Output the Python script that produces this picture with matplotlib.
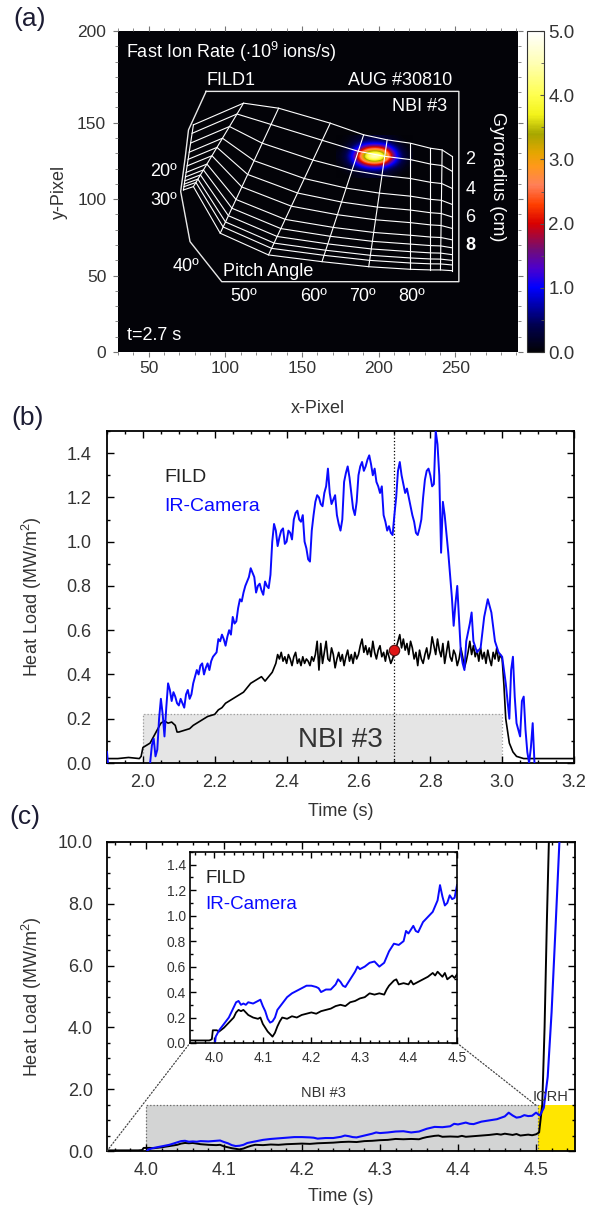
import matplotlib.pyplot as plt
import numpy as np
from matplotlib.cm import ScalarMappable
from matplotlib.colors import LinearSegmentedColormap, Normalize
from matplotlib.patches import ConnectionPatch
from matplotlib.ticker import FormatStrFormatter, MultipleLocator

plt.rcParams['font.family'] = ['Liberation Sans', 'DejaVu Sans']
plt.rcParams['mathtext.fontset'] = 'custom'
plt.rcParams['mathtext.rm'] = 'Liberation Sans'

TXT = '#333333'
BLUE = '#0a0aff'

# ---------------- (a) FILD frame: spot + strike map (pixel coords) ----------------
SPOT = np.array([
    [0.0, 0.05, 0.15, 0.25, 0.25, 0.2, 0.1, 0.0, 0.0],
    [0.0, 0.15, 0.5, 0.9, 1.0, 0.9, 0.5, 0.15, 0.0],
    [0.05, 0.4, 1.3, 2.8, 3.4, 2.9, 1.4, 0.4, 0.05],
    [0.1, 0.6, 2.0, 4.6, 5.6, 4.7, 2.1, 0.6, 0.1],
    [0.05, 0.4, 1.2, 2.4, 2.9, 2.4, 1.2, 0.4, 0.05],
    [0.0, 0.15, 0.3, 0.6, 0.7, 0.6, 0.3, 0.15, 0.0],
    [0.0, 0.0, 0.1, 0.15, 0.2, 0.15, 0.1, 0.0, 0.0],
])
SPOT_EXTENT = (172, 222, 114, 142)

# pitch-angle lines (top / bottom ends) and gyroradius positions along them
PITCH_TOP_X = [79.2, 111.9, 134.8, 168.5, 190.3, 205.6, 220.8, 233.9, 241.5, 248.1]
PITCH_TOP_Y = [148.6, 162.8, 159.5, 149.7, 142.1, 138.8, 136.6, 133.3, 132.2, 127.9]
PITCH_BOT_X = [72.7, 79.2, 96.7, 128.2, 163.1, 193.6, 220.8, 233.9, 240.4, 248.1]
PITCH_BOT_Y = [106.0, 108.2, 77.7, 63.5, 59.1, 55.8, 54.1, 53.7, 53.7, 53.2]
GYRO_FRAC = [0.0, 0.13, 0.28, 0.42, 0.53, 0.63, 0.73, 0.80, 0.86, 0.91, 0.95, 1.0]

FRAME_X = [87.5, 252.4, 252.4, 97.7, 77.0, 70.9, 73.8, 76.0, 87.5]
FRAME_Y = [170.5, 170.5, 46.0, 46.0, 72.2, 105.0, 126.8, 145.3, 170.5]

GYRO_LABELS = ['2', '4', '6', '8']
GYRO_LABEL_Y = [125.7, 106.0, 87.8, 70.0]
PITCH_LABELS = ['50º', '60º', '70º', '80º']
PITCH_LABEL_X = [111.7, 157.5, 189.5, 221.5]

# ---------------- (b) heat load, t = 1.9 - 3.2 s ----------------
T_FILD_B = [1.90, 1.93, 1.96, 1.99, 1.995, 2.00, 2.02, 2.03, 2.04, 2.05, 2.06, 2.07, 2.08,
            2.09, 2.095, 2.10, 2.11, 2.12, 2.13, 2.14, 2.15, 2.16, 2.17, 2.18, 2.19, 2.20,
            2.21, 2.22, 2.23, 2.24, 2.25, 2.26, 2.27, 2.28, 2.29, 2.30, 2.31, 2.32, 2.33,
            2.34, 2.35, 2.36,
            2.370, 2.375, 2.380, 2.385, 2.390, 2.395, 2.400, 2.405, 2.410, 2.415, 2.420,
            2.425, 2.430, 2.435, 2.440, 2.445, 2.450, 2.455, 2.460, 2.465, 2.470, 2.475,
            2.480, 2.485, 2.490, 2.495, 2.500, 2.505, 2.510, 2.515, 2.520, 2.525, 2.530,
            2.535, 2.540, 2.545, 2.550, 2.555, 2.560, 2.565, 2.570, 2.575, 2.580, 2.585,
            2.590, 2.595, 2.600, 2.605, 2.610, 2.615, 2.620, 2.625, 2.630, 2.635, 2.640,
            2.645, 2.650, 2.655, 2.660, 2.665, 2.670, 2.675, 2.680, 2.685, 2.690, 2.695,
            2.700, 2.705, 2.710, 2.715, 2.720, 2.725, 2.730, 2.735, 2.740, 2.745, 2.750,
            2.755, 2.760, 2.765, 2.770, 2.775, 2.780, 2.785, 2.790, 2.795, 2.800, 2.805,
            2.810, 2.815, 2.820, 2.825, 2.830, 2.835, 2.840, 2.845, 2.850, 2.855, 2.860,
            2.865, 2.870, 2.875, 2.880, 2.885, 2.890, 2.895, 2.900, 2.905, 2.910, 2.915,
            2.920, 2.925, 2.930, 2.935, 2.940, 2.945, 2.950, 2.955, 2.960, 2.965, 2.970,
            2.975, 2.980, 2.985, 2.990, 2.995, 3.000,
            3.005, 3.01, 3.02, 3.03, 3.04, 3.06, 3.10, 3.15, 3.20]
FILD_B = [0.02, 0.02, 0.025, 0.02, 0.03, 0.07, 0.09, 0.12, 0.15, 0.18, 0.19, 0.18, 0.185,
          0.17, 0.14, 0.14, 0.145, 0.15, 0.155, 0.17, 0.18, 0.19, 0.20, 0.21, 0.215, 0.22,
          0.24, 0.25, 0.27, 0.28, 0.29, 0.30, 0.31, 0.32, 0.34, 0.36, 0.37, 0.38, 0.39,
          0.37, 0.39, 0.41,
          0.45, 0.49, 0.47, 0.50, 0.46, 0.48, 0.45, 0.49, 0.47, 0.44, 0.48,
          0.50, 0.45, 0.47, 0.44, 0.48, 0.45, 0.47, 0.46, 0.44, 0.48, 0.46,
          0.49, 0.55, 0.42, 0.54, 0.45, 0.50, 0.55, 0.47, 0.46, 0.52, 0.49,
          0.43, 0.47, 0.50, 0.46, 0.49, 0.44, 0.48, 0.51, 0.46, 0.49, 0.45,
          0.50, 0.47, 0.49, 0.53, 0.56, 0.50, 0.53, 0.49, 0.52, 0.48, 0.55,
          0.50, 0.47, 0.51, 0.53, 0.48, 0.50, 0.46, 0.51, 0.48, 0.45, 0.47,
          0.50, 0.52, 0.55, 0.58, 0.52, 0.56, 0.51, 0.54, 0.49, 0.55, 0.52,
          0.47, 0.50, 0.44, 0.51, 0.47, 0.45, 0.49, 0.52, 0.47, 0.50, 0.57,
          0.53, 0.49, 0.56, 0.51, 0.48, 0.54, 0.45, 0.50, 0.55, 0.48, 0.46,
          0.51, 0.49, 0.44, 0.47, 0.52, 0.48, 0.43, 0.46, 0.50, 0.55, 0.49,
          0.53, 0.48, 0.51, 0.46, 0.52, 0.47, 0.50, 0.45, 0.51, 0.47, 0.44,
          0.50, 0.47, 0.52, 0.46, 0.49, 0.47,
          0.35, 0.20, 0.09, 0.05, 0.03, 0.02, 0.02, 0.02, 0.02]

T_IR_B = [1.90, 1.905, 2.015, 2.02, 2.025, 2.03, 2.035, 2.04, 2.045, 2.05, 2.055, 2.06, 2.065,
          2.07, 2.075, 2.08, 2.085, 2.09, 2.095, 2.10, 2.105, 2.11, 2.12, 2.13, 2.14, 2.15,
          2.16, 2.17, 2.18, 2.19, 2.20, 2.21, 2.22, 2.23, 2.24, 2.25, 2.26, 2.27, 2.28, 2.29,
          2.30, 2.31, 2.315, 2.32, 2.33, 2.34, 2.35, 2.36, 2.365, 2.37, 2.38, 2.39, 2.40,
          2.41, 2.42, 2.43, 2.44, 2.45, 2.46, 2.465, 2.47, 2.48, 2.49, 2.50, 2.51, 2.515,
          2.52, 2.53, 2.54, 2.55, 2.56, 2.57, 2.58, 2.59, 2.60, 2.61, 2.62, 2.63, 2.64, 2.65,
          2.66, 2.67, 2.68, 2.69, 2.70, 2.705, 2.71, 2.715, 2.72, 2.73, 2.74, 2.75, 2.76,
          2.77, 2.78, 2.79, 2.80, 2.81, 2.815, 2.82, 2.825, 2.83, 2.835, 2.84, 2.85, 2.86,
          2.865, 2.87, 2.875, 2.88, 2.885, 2.89, 2.895, 2.90, 2.91, 2.915, 2.92, 2.93, 2.94,
          2.95, 2.96, 2.97, 2.98, 2.99, 3.00, 3.01, 3.02, 3.025, 3.03, 3.035, 3.04, 3.05,
          3.055, 3.06, 3.065, 3.07, 3.075, 3.08, 3.085, 3.09, 3.095]
IR_B = [0.05, -0.05, -0.05, 0.0, 0.08, 0.11, 0.03, 0.06, 0.20, 0.29, 0.22, 0.12, 0.25,
        0.36, 0.33, 0.28, 0.32, 0.30, 0.27, 0.26, 0.29, 0.27, 0.31, 0.29, 0.36, 0.42,
        0.44, 0.40, 0.45, 0.46, 0.49, 0.56, 0.58, 0.53, 0.60, 0.66, 0.64, 0.74, 0.77, 0.82,
        0.88, 0.84, 0.77, 0.80, 0.78, 0.82, 0.79, 1.00, 1.08, 1.05, 1.02, 1.06, 1.00,
        1.04, 1.10, 1.14, 1.09, 1.00, 0.92, 0.91, 1.05, 1.18, 1.20, 1.16, 1.25, 1.33,
        1.22, 1.19, 1.12, 1.05, 1.27, 1.34, 1.22, 1.12, 1.30, 1.36, 1.34, 1.39, 1.30, 1.27,
        1.22, 1.12, 1.05, 1.04, 1.12, 1.20, 1.32, 1.36, 1.30, 1.22, 1.20, 1.12, 1.04,
        1.06, 1.20, 1.32, 1.30, 1.26, 1.50, 1.44, 1.30, 0.95, 1.18, 1.12, 0.95, 0.75,
        0.62, 0.72, 0.80, 0.65, 0.50, 0.45, 0.42, 0.55, 0.63, 0.68, 0.55, 0.50, 0.52,
        0.66, 0.74, 0.68, 0.55, 0.50, 0.48, 0.36, 0.20, 0.42, 0.48, 0.30, 0.18, 0.12,
        0.28, 0.30, 0.15, 0.05, 0.0, 0.07, 0.18, 0.0, -0.10]
# extra in-between IR samples (fast fluctuations)
T_IR_B_MID = [2.115, 2.125, 2.135, 2.145, 2.155, 2.165, 2.175, 2.185, 2.195, 2.205, 2.215,
              2.225, 2.235, 2.245, 2.255, 2.265, 2.275, 2.285, 2.295, 2.305, 2.325, 2.335,
              2.345, 2.355, 2.375, 2.385, 2.395, 2.405, 2.415, 2.425, 2.435, 2.445, 2.455,
              2.475, 2.485, 2.495, 2.505, 2.525, 2.535, 2.545, 2.555, 2.565, 2.575, 2.585,
              2.595, 2.605, 2.615, 2.625, 2.635, 2.645, 2.655, 2.665, 2.675, 2.685, 2.695,
              2.725, 2.735, 2.745, 2.755, 2.765, 2.775, 2.785, 2.795, 2.805]
IR_B_MID = [0.25, 0.33, 0.31, 0.39, 0.40, 0.45, 0.43, 0.42, 0.48, 0.50, 0.55,
            0.56, 0.57, 0.58, 0.63, 0.70, 0.73, 0.80, 0.84, 0.86, 0.81, 0.76,
            0.80, 0.85, 0.98, 1.05, 0.99, 1.05, 1.01, 1.13, 1.10, 1.12, 0.97,
            1.12, 1.21, 1.17, 1.22, 1.17, 1.21, 1.08, 1.10, 1.31, 1.29, 1.15,
            1.18, 1.34, 1.32, 1.37, 1.35, 1.33, 1.25, 1.25, 1.09, 1.07, 1.03,
            1.26, 1.24, 1.16, 1.09, 1.03, 1.10, 1.28, 1.33, 1.25]

NBI_B = (2.0, 3.0)
NBI_TOP_B = 0.22
T_FRAME = 2.7
FILD_AT_FRAME = 0.51

# ---------------- (c) heat load, t = 3.95 - 4.55 s ----------------
T_FILD_C = [3.95, 3.97, 3.99, 3.995, 3.997, 4.005, 4.01, 4.02, 4.03, 4.04, 4.045, 4.05, 4.055,
            4.06, 4.065, 4.07, 4.08, 4.09, 4.095, 4.10, 4.105, 4.11, 4.115, 4.12, 4.125, 4.13,
            4.135, 4.14, 4.15, 4.16, 4.17, 4.18, 4.19, 4.20, 4.21, 4.22, 4.23, 4.24, 4.25,
            4.26, 4.27, 4.28, 4.29, 4.30, 4.31, 4.32, 4.33, 4.34, 4.35, 4.355, 4.36, 4.37,
            4.375, 4.38, 4.39, 4.40, 4.405, 4.41, 4.42, 4.43, 4.44, 4.45, 4.455, 4.46, 4.47,
            4.475, 4.48, 4.49, 4.495, 4.50]
FILD_C = [0.02, 0.02, 0.02, 0.03, 0.10, 0.10, 0.09, 0.12, 0.16, 0.20, 0.24, 0.26, 0.25,
          0.26, 0.24, 0.22, 0.20, 0.19, 0.20, 0.15, 0.12, 0.09, 0.07, 0.05, 0.08, 0.13,
          0.17, 0.20, 0.19, 0.21, 0.20, 0.22, 0.23, 0.24, 0.23, 0.25, 0.26, 0.27, 0.29,
          0.30, 0.29, 0.32, 0.33, 0.35, 0.36, 0.39, 0.38, 0.39, 0.38, 0.42, 0.45, 0.49,
          0.50, 0.46, 0.47, 0.46, 0.49, 0.46, 0.48, 0.50, 0.52, 0.55, 0.53, 0.56, 0.52,
          0.55, 0.50, 0.53, 0.51, 0.54]
T_IR_C = [4.000, 4.003, 4.01, 4.02, 4.03, 4.04, 4.045, 4.05, 4.055, 4.06, 4.065, 4.07, 4.08,
          4.09, 4.095, 4.10, 4.105, 4.11, 4.115, 4.12, 4.125, 4.13, 4.14, 4.15, 4.16, 4.17,
          4.18, 4.19, 4.20, 4.21, 4.215, 4.22, 4.23, 4.24, 4.25, 4.255, 4.26, 4.265, 4.27,
          4.28, 4.29, 4.295, 4.30, 4.31, 4.32, 4.33, 4.34, 4.35, 4.36, 4.37, 4.38, 4.39,
          4.395, 4.40, 4.41, 4.415, 4.42, 4.43, 4.44, 4.45, 4.46, 4.465, 4.47, 4.475, 4.48,
          4.485, 4.49, 4.495, 4.50]
IR_C = [-0.05, 0.05, 0.10, 0.15, 0.20, 0.28, 0.32, 0.33, 0.30, 0.31, 0.30, 0.32, 0.31,
        0.33, 0.34, 0.29, 0.25, 0.19, 0.16, 0.17, 0.20, 0.26, 0.31, 0.36, 0.39, 0.41,
        0.43, 0.45, 0.45, 0.44, 0.43, 0.40, 0.42, 0.42, 0.46, 0.50, 0.48, 0.45, 0.44,
        0.50, 0.56, 0.60, 0.58, 0.60, 0.63, 0.64, 0.60, 0.63, 0.72, 0.78, 0.77, 0.80,
        0.88, 0.86, 0.92, 0.88, 0.87, 0.95, 0.99, 1.03, 1.12, 1.24, 1.15, 1.08, 1.10,
        1.16, 1.13, 1.14, 1.24]
# ICRH switch-on: both signals saturate
T_FILD_TAIL = [4.504, 4.508, 4.511, 4.514, 4.517, 4.521]
FILD_TAIL = [0.60, 1.5, 4.0, 7.5, 10.5, 12.0]
T_IR_TAIL = [4.505, 4.510, 4.515, 4.520, 4.525, 4.530, 4.535]
IR_TAIL = [1.15, 1.4, 2.4, 4.5, 7.2, 10.0, 12.0]

NBI_C = (4.0, 4.503)
ICRH_C = (4.503, 4.55)
SRC_TOP_C = 1.48

# ---------------- colormap ----------------
cmap = LinearSegmentedColormap.from_list('fild', [
    (0.00, (0.01, 0.01, 0.03)), (0.08, (0.0, 0.0, 0.30)), (0.20, (0.0, 0.0, 1.0)),
    (0.26, (0.30, 0.0, 0.80)), (0.32, (0.45, 0.05, 0.45)), (0.40, (0.85, 0.0, 0.0)),
    (0.46, (1.0, 0.25, 0.0)), (0.52, (1.0, 0.50, 0.35)), (0.58, (1.0, 0.60, 0.10)),
    (0.62, (0.90, 0.65, 0.0)), (0.68, (0.65, 0.65, 0.0)), (0.74, (0.95, 0.95, 0.10)),
    (0.80, (1.0, 1.0, 0.30)), (0.90, (1.0, 1.0, 0.70)), (1.00, (1.0, 1.0, 1.0))])

fig = plt.figure(figsize=(5.89, 12.09), dpi=100)
H = 1209.0
W = 589.0


def box(l, t, r, b):
    return [l / W, 1 - b / H, (r - l) / W, (b - t) / H]


def style_ticks(ax, size=13, pad=8):
    ax.tick_params(which='both', direction='in', top=True, right=True, colors='black',
                   labelcolor=TXT, labelsize=size, width=1.0)
    ax.tick_params(which='major', length=5, pad=pad)
    ax.tick_params(which='minor', length=2.5)
    for s in ax.spines.values():
        s.set_linewidth(1.3)


# ================= panel (a) =================
ax_a = fig.add_axes(box(118, 31, 518, 352))
ax_a.set_facecolor((0.01, 0.01, 0.03))
ax_a.imshow(SPOT, extent=SPOT_EXTENT, origin='upper', cmap=cmap, vmin=0, vmax=5,
            interpolation='bicubic', aspect='auto', zorder=1)

for j in range(len(PITCH_TOP_X)):
    ax_a.plot([PITCH_TOP_X[j], PITCH_BOT_X[j]], [PITCH_TOP_Y[j], PITCH_BOT_Y[j]],
              color='white', lw=0.8, zorder=3)
for f in GYRO_FRAC:
    xs = [tx + f * (bx - tx) for tx, bx in zip(PITCH_TOP_X, PITCH_BOT_X)]
    ys = [ty + f * (by - ty) for ty, by in zip(PITCH_TOP_Y, PITCH_BOT_Y)]
    ax_a.plot(xs, ys, color='white', lw=0.8, zorder=3)
ax_a.plot(FRAME_X, FRAME_Y, color='#e8e8e8', lw=1.0, zorder=3)

ax_a.set_xlim(30, 291)
ax_a.set_ylim(0, 210)

wt = dict(color='white', fontsize=13, zorder=5)
ax_a.text(35, 196, r'Fast Ion Rate ($\cdot$10$^{9}$ ions/s)', ha='left', va='center', **wt)
ax_a.text(88, 177.5, 'FILD1', ha='left', va='center', **wt)
ax_a.text(248.3, 177.5, 'AUG #30810', ha='right', va='center', **wt)
ax_a.text(245, 160.4, 'NBI #3', ha='right', va='center', **wt)
ax_a.text(277.7, 114.6, 'Gyroradius (cm)', ha='center', va='center', rotation=270, **wt)
for lab, y in zip(GYRO_LABELS, GYRO_LABEL_Y):
    ax_a.text(260, y, lab, ha='center', va='center',
              fontweight='bold' if lab == '8' else 'normal', **wt)
ax_a.text(68.6, 117.9, '20º', ha='right', va='center', **wt)
ax_a.text(68.6, 98.9, '30º', ha='right', va='center', **wt)
ax_a.text(74.4, 55.7, '40º', ha='center', va='center', **wt)
ax_a.text(98.6, 52.4, 'Pitch Angle', ha='left', va='center', **wt)
for lab, x in zip(PITCH_LABELS, PITCH_LABEL_X):
    ax_a.text(x, 36, lab, ha='center', va='center', **wt)
ax_a.text(35.9, 10.5, 't=2.7 s', ha='left', va='center', **wt)

ax_a.set_xticks([50, 100, 150, 200, 250])
ax_a.set_yticks([0, 50, 100, 150, 210], ['0', '50', '100', '150', '200'])
ax_a.xaxis.set_minor_locator(MultipleLocator(10))
ax_a.yaxis.set_minor_locator(MultipleLocator(10))
ax_a.tick_params(which='both', direction='out', top=True, right=True, colors='#777777',
                 labelcolor=TXT, labelsize=12.5)
ax_a.tick_params(which='major', length=3.5, pad=3)
ax_a.tick_params(which='minor', length=2)
ax_a.tick_params(axis='y', which='major', pad=5)
for s in ax_a.spines.values():
    s.set_visible(False)
ax_a.set_xlabel('x-Pixel', fontsize=13, color=TXT)
ax_a.xaxis.set_label_coords(0.5, -0.15)
ax_a.set_ylabel('y-Pixel', fontsize=13, color=TXT)
ax_a.yaxis.set_label_coords(-0.125, 0.5)

cax = fig.add_axes(box(527, 31, 544, 352))
cb = fig.colorbar(ScalarMappable(norm=Normalize(0, 5), cmap=cmap), cax=cax)
cb.set_ticks([0, 1, 2, 3, 4, 5])
cb.ax.yaxis.set_major_formatter(FormatStrFormatter('%.1f'))
cb.ax.yaxis.set_minor_locator(MultipleLocator(0.5))
cb.ax.tick_params(which='both', direction='in', labelsize=13.5, labelcolor=TXT,
                  color='#555555', pad=3)
cb.ax.tick_params(which='major', length=3)
cb.ax.tick_params(which='minor', length=2)
cb.outline.set_edgecolor('#333333')
cb.outline.set_linewidth(0.8)

# ================= panel (b) =================
ax_b = fig.add_axes(box(107, 431, 574, 763))
ax_b.fill_between(NBI_B, 0, NBI_TOP_B, color='#e5e5e5', lw=0, zorder=0)
ax_b.plot([NBI_B[0], NBI_B[0], NBI_B[1], NBI_B[1]], [0, NBI_TOP_B, NBI_TOP_B, 0],
          ls=':', color='#9a9a9a', lw=0.9, zorder=1)
ax_b.text(np.mean(NBI_B) + 0.05, NBI_TOP_B * 0.47, 'NBI #3', fontsize=20, color='#333333',
          ha='center', va='center', zorder=1)
ax_b.axvline(T_FRAME, color='black', ls=':', lw=0.9, zorder=2)
ax_b.plot(T_FILD_B, FILD_B, color='black', lw=1.2, zorder=3)
t_ir = np.array(T_IR_B + T_IR_B_MID)
v_ir = np.array(IR_B + IR_B_MID)
order = np.argsort(t_ir, kind='stable')
ax_b.plot(t_ir[order], v_ir[order], color=BLUE, lw=1.4, zorder=4)
ax_b.plot([T_FRAME], [FILD_AT_FRAME], 'o', ms=7.5, mfc='#e01515', mec='#551111', mew=0.8,
          zorder=5)
ax_b.text(2.06, 1.29, 'FILD', fontsize=14, color='#222222', ha='left', va='center')
ax_b.text(2.06, 1.16, 'IR-Camera', fontsize=14, color=BLUE, ha='left', va='center')
ax_b.set_xlim(1.9, 3.2)
ax_b.set_ylim(0, 1.5)
ax_b.xaxis.set_major_locator(MultipleLocator(0.2))
ax_b.xaxis.set_minor_locator(MultipleLocator(0.05))
ax_b.yaxis.set_major_locator(MultipleLocator(0.2))
ax_b.yaxis.set_minor_locator(MultipleLocator(0.1))
ax_b.xaxis.set_major_formatter(FormatStrFormatter('%.1f'))
ax_b.yaxis.set_major_formatter(FormatStrFormatter('%.1f'))
style_ticks(ax_b)
ax_b.tick_params(axis='y', which='major', pad=11)
ax_b.set_xlabel('Time (s)', fontsize=13, color=TXT)
ax_b.xaxis.set_label_coords(0.5, -0.12)
ax_b.set_ylabel('Heat Load (MW/m$^{2}$)', fontsize=13, color=TXT)
ax_b.yaxis.set_label_coords(-0.135, 0.5)

# ================= panel (c) =================
ax_c = fig.add_axes(box(107, 842, 575, 1151))
ax_c.fill_between(NBI_C, 0, SRC_TOP_C, color='#d3d4d4', lw=0, zorder=0)
ax_c.plot([NBI_C[0], NBI_C[0], NBI_C[1], NBI_C[1]], [0, SRC_TOP_C, SRC_TOP_C, 0],
          ls=':', color='#666666', lw=0.9, zorder=1)
ax_c.fill_between(ICRH_C, 0, SRC_TOP_C, color='#ffe600', lw=0, zorder=0)
ax_c.text(4.227, 1.88, 'NBI #3', fontsize=10.5, color='#333333', ha='center', va='center')
ax_c.text(4.519, 1.75, 'ICRH', fontsize=10.5, color='#333333', ha='center', va='center',
          zorder=6)
ax_c.plot(T_FILD_C + T_FILD_TAIL, FILD_C + FILD_TAIL, color='black', lw=1.4, zorder=3)
ax_c.plot(T_IR_C + T_IR_TAIL, IR_C + IR_TAIL, color=BLUE, lw=1.5, zorder=4)
ax_c.set_xlim(3.95, 4.55)
ax_c.set_ylim(0, 10)
ax_c.xaxis.set_major_locator(MultipleLocator(0.1))
ax_c.xaxis.set_minor_locator(MultipleLocator(0.02))
ax_c.yaxis.set_major_locator(MultipleLocator(2))
ax_c.yaxis.set_minor_locator(MultipleLocator(0.5))
ax_c.xaxis.set_major_formatter(FormatStrFormatter('%.1f'))
ax_c.yaxis.set_major_formatter(FormatStrFormatter('%.1f'))
style_ticks(ax_c)
ax_c.tick_params(axis='y', which='major', pad=10)
ax_c.set_xlabel('Time (s)', fontsize=13, color=TXT)
ax_c.xaxis.set_label_coords(0.5, -0.12)
ax_c.set_ylabel('Heat Load (MW/m$^{2}$)', fontsize=13, color=TXT)
ax_c.yaxis.set_label_coords(-0.135, 0.5)

# inset zoom
ax_in = fig.add_axes(box(190, 852, 457, 1043))
ax_in.set_zorder(5)
ax_in.plot(T_FILD_C, FILD_C, color='black', lw=1.3)
ax_in.plot(T_IR_C, IR_C, color=BLUE, lw=1.4)
ax_in.text(3.981, 1.295, 'FILD', fontsize=13.5, color='#222222', ha='left', va='center')
ax_in.text(3.981, 1.087, 'IR-Camera', fontsize=13.5, color=BLUE, ha='left', va='center')
ax_in.set_xlim(3.95, 4.5)
ax_in.set_ylim(0, 1.5)
ax_in.xaxis.set_major_locator(MultipleLocator(0.1))
ax_in.xaxis.set_minor_locator(MultipleLocator(0.02))
ax_in.yaxis.set_major_locator(MultipleLocator(0.2))
ax_in.yaxis.set_minor_locator(MultipleLocator(0.1))
ax_in.xaxis.set_major_formatter(FormatStrFormatter('%.1f'))
ax_in.yaxis.set_major_formatter(FormatStrFormatter('%.1f'))
style_ticks(ax_in, size=10, pad=6)
ax_in.tick_params(which='major', length=4)
ax_in.tick_params(axis='y', which='major', pad=3)
for s in ax_in.spines.values():
    s.set_linewidth(1.2)

for xyA, coordsA, xyB in [((0, 0), ax_c.transAxes, (0, 0)),
                          ((NBI_C[0] + 0.5, SRC_TOP_C), ax_c.transData, (1, 0))]:
    con = ConnectionPatch(xyA=xyA, coordsA=coordsA, xyB=xyB, coordsB=ax_in.transAxes,
                          ls=':', color='#444444', lw=0.9)
    fig.add_artist(con)

# panel letters
for lab, x, y in [('(a)', 30, 19), ('(b)', 28, 418), ('(c)', 25, 817)]:
    fig.text(x / W, 1 - y / H, lab, fontsize=19, color='#1c1c33', ha='center', va='center')

fig.savefig('out.png', dpi=100)
